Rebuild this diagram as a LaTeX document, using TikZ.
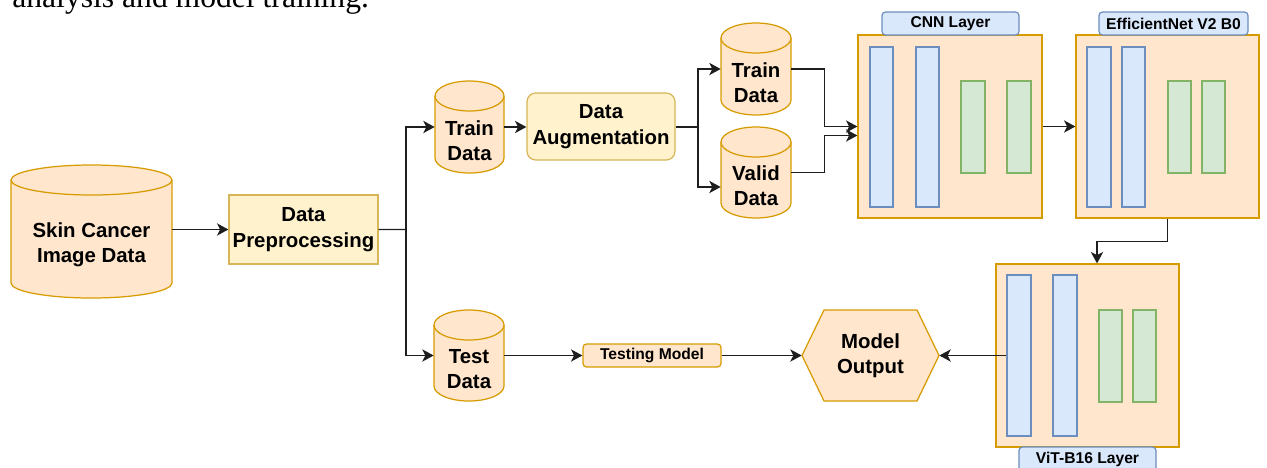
\documentclass[tikz,border=0pt]{standalone}
\usepackage{fontspec}
\setmainfont{Liberation Sans}
\newfontfamily\bodyserif{Liberation Serif}
\usetikzlibrary{arrows.meta,fit,calc}

\definecolor{orfill}{HTML}{FFE6CC}
\definecolor{ordraw}{HTML}{D79B00}
\definecolor{yefill}{HTML}{FFF2CC}
\definecolor{yedraw}{HTML}{D6B656}
\definecolor{blfill}{HTML}{DAE8FC}
\definecolor{bldraw}{HTML}{6C8EBF}
\definecolor{grfill}{HTML}{D5E8D4}
\definecolor{grdraw}{HTML}{82B366}
\definecolor{wirecol}{HTML}{1E1E1E}

\tikzset{
  cyl/.style={fill=orfill, draw=ordraw, line width=0.7pt},
  maintext/.style={font=\fontsize{11.6}{14.4}\selectfont\bfseries, align=center, inner sep=0},
  tagtext/.style={font=\fontsize{8.9}{10.5}\selectfont\bfseries},
  procbox/.style={draw=yedraw, fill=yefill, inner sep=0, line width=0.7pt},
  layerbox/.style={draw=ordraw, fill=orfill, inner sep=0, line width=0.7pt},
  tagbox/.style={draw=bldraw, fill=blfill, rounded corners=2pt, inner sep=0, line width=0.7pt},
  bluebar/.style={draw=bldraw, fill=blfill, inner sep=0, line width=0.7pt},
  greenbar/.style={draw=grdraw, fill=grfill, inner sep=0, line width=0.7pt},
  wire/.style={draw=wirecol, line width=0.8pt},
  arr/.style={wire, -{Stealth[length=6.5pt,width=7pt,inset=1.8pt]}},
}

% database cylinder: name, left, right, top, bottom, label
\newcommand\dbcyl[6]{%
  \pgfmathsetmacro\cylrx{(#3-#2)/2}%
  \filldraw[cyl] (#2,{#4+15}) -- (#2,{#5-15})
    arc[start angle=180,end angle=0,x radius=\cylrx,y radius=15]
    -- (#3,{#4+15})
    arc[start angle=0,end angle=-180,x radius=\cylrx,y radius=15] -- cycle;
  \draw[cyl] (#2,{#4+15}) arc[start angle=180,end angle=0,x radius=\cylrx,y radius=15];
  \node[inner sep=0, fit={(#2,#4) (#3,#5)}] (#1) {};
  \node[maintext] (#1t) at ({(#2+#3)/2},{(#4+30+#5)/2-1.5}) {#6};
}

\begin{document}
\begin{tikzpicture}[x=0.02cm, y=-0.02cm]
\useasboundingbox (0,0) rectangle (1267,467);

% running text cut by the upper edge
\node[font=\bodyserif\fontsize{18}{20}\selectfont, anchor=base west, inner sep=0] (caption) at (12,7.5) {analysis and model training.};

% data stores
\dbcyl{skin}{11}{172}{165}{298}{Skin Cancer\\Image Data}
\dbcyl{trainA}{435}{504}{81}{173}{Train\\Data}
\dbcyl{test}{434}{504}{310}{401}{Test\\Data}
\dbcyl{trainB}{721}{791}{23}{115}{Train\\Data}
\dbcyl{valid}{721}{791}{127}{218}{Valid\\Data}

% processing steps
\node[procbox, maintext, fit={(229,195) (378,264)}] (prep) {};
\node[maintext] (prept) at (prep.center) {Data\\Preprocessing};
\node[procbox, rounded corners=5pt, fit={(527,93) (675,160)}] (aug) {};
\node[maintext] (augt) at (aug.center) {Data\\Augmentation};
\node[layerbox, rounded corners=2pt, fit={(583,344) (721,367)}] (tm) {};
\node[tagtext] (tmt) at (tm.center) {Testing Model};

% model output hexagon
\filldraw[cyl] (802,355.5) -- (824,310) -- (917,310) -- (939,355.5) -- (917,401) -- (824,401) -- cycle;
\node[inner sep=0, fit={(802,310) (939,401)}] (out) {};
\node[maintext] (outt) at (out.center) {Model\\Output};

% CNN layer
\node[layerbox, fit={(858,35) (1042,218)}] (cnn) {};
\node[tagbox, fit={(882,12) (1019,35)}] (cnntag) {};
\node[tagtext] (cnntagt) at (cnntag.center) {CNN Layer};
\node[bluebar,  fit={(870,47) (893,207)}] (cnn1) {};
\node[bluebar,  fit={(916,47) (939,207)}] (cnn2) {};
\node[greenbar, fit={(961,81) (985,173)}] (cnn3) {};
\node[greenbar, fit={(1007,81) (1031,173)}] (cnn4) {};

% EfficientNet layer
\node[layerbox, fit={(1076,35) (1259,218)}] (eff) {};
\node[tagbox, fit={(1099,12) (1248,35)}] (efftag) {};
\node[tagtext] (efftagt) at (efftag.center) {EfficientNet V2 B0};
\node[bluebar,  fit={(1087,47) (1111,207)}] (eff1) {};
\node[bluebar,  fit={(1122,47) (1145,207)}] (eff2) {};
\node[greenbar, fit={(1168,81) (1191,173)}] (eff3) {};
\node[greenbar, fit={(1202,81) (1225,173)}] (eff4) {};

% ViT-B16 layer
\node[layerbox, fit={(996,264) (1179,447)}] (vit) {};
\node[tagbox, fit={(1019,447) (1156,471)}] (vittag) {};
\node[tagtext] (vittagt) at (vittag.center) {ViT-B16 Layer};
\node[bluebar,  fit={(1007,275) (1031,436)}] (vit1) {};
\node[bluebar,  fit={(1053,275) (1077,436)}] (vit2) {};
\node[greenbar, fit={(1099,310) (1122,402)}] (vit3) {};
\node[greenbar, fit={(1133,310) (1156,402)}] (vit4) {};

% connectors
\coordinate (split) at (406,229.5);
\draw[arr] (skin.east |- prep.west) -- (prep.west);
\draw[wire] (prep.east) -- (split);
\draw[arr] (split) |- (trainA.west);
\draw[arr] (split) |- (test.west);
\draw[arr] (trainA.east) -- (trainA.east -| aug.west);
\coordinate (fork) at (698,127);
\draw[wire] (aug.east |- fork) -- (fork);
\draw[arr] (fork) |- (trainB.west);
\draw[arr] (fork) |- ($(valid.west)+(0,14.5)$);
\draw[arr] (trainB.east) -- ++(33,0) |- (cnn.west);
\draw[arr] (valid.east) -- ++(33,0) |- ($(cnn.west)+(0,9)$);
\draw[arr] (cnn.east) -- (eff.west);
\draw[arr] (eff.south) -- ++(0,23) -| ($(vit.north)+(9.5,0)$);
\draw[arr] (vit1.west) -- (out.east);
\draw[arr] (test.east) -- (tm.west);
\draw[arr] (tm.east) -- (out.west);
\end{tikzpicture}
\end{document}
